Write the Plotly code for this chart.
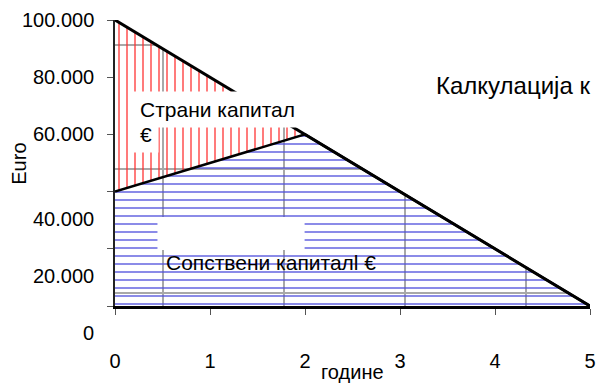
import plotly.graph_objects as go

# ---- data -------------------------------------------------------------
years = [0, 1, 2, 3, 4, 5]
own_capital = [40000, 50000, 60000, 40000, 20000, 0]
foreign_capital = [60000, 30000, 0, 0, 0, 0]
total_capital = [o + f for o, f in zip(own_capital, foreign_capital)]

x_ticks = [0, 1, 2, 3, 4, 5]
y_ticks = [0, 20000, 40000, 60000, 80000, 100000]
y_tick_text = ["0", "20.000", "40.000", "60.000", "80.000", "100.000"]

title_text = "Калкулација к"
foreign_label = "Страни капитал"
euro_sign = "€"
own_label = "Сопствени капиталl €"

# ---- style ------------------------------------------------------------
FONT = "Arial, Liberation Sans, sans-serif"
W, H = 604, 383
L, R, T, B = 115, 8, 20, 77
PW, PH = W - L - R, H - T - B
LOW_LABEL_DROP = 27          # lower y labels sit a bit below their ticks
GRID = "#a8a8a8"
CLEAR = "rgba(0,0,0,0)"


def px_x(p):
    return (p - L) / PW


def px_y(p):
    return (H - B - p) / PH


fig = go.Figure()

# stacked capital areas
fig.add_trace(go.Scatter(
    x=years, y=own_capital, stackgroup="cap", mode="lines",
    line=dict(width=0, color="#5a5ad8"), name=own_label, fillcolor=CLEAR,
    fillpattern=dict(shape="-", size=8, solidity=0.25, bgcolor=CLEAR,
                     fgcolor="#4c4cdc", fgopacity=0.65),
    hoverinfo="skip"))
fig.add_trace(go.Scatter(
    x=years, y=foreign_capital, stackgroup="cap", mode="lines",
    line=dict(width=0, color="#ff4040"), name=foreign_label, fillcolor=CLEAR,
    fillpattern=dict(shape="|", size=8, solidity=0.25, bgcolor=CLEAR,
                     fgcolor="#ff2a2a", fgopacity=0.62),
    hoverinfo="skip"))

# white region above the total (hides the texture grid there)
fig.add_trace(go.Scatter(
    x=years + [years[-1], years[0]],
    y=total_capital + [max(y_ticks), max(y_ticks)],
    fill="toself", fillcolor="white", mode="lines",
    line=dict(width=0), hoverinfo="skip", showlegend=False))

# outlines
fig.add_trace(go.Scatter(
    x=years, y=total_capital, mode="lines",
    line=dict(color="black", width=3), hoverinfo="skip", showlegend=False))
fig.add_trace(go.Scatter(
    x=years, y=own_capital, mode="lines",
    line=dict(color="black", width=2.5), hoverinfo="skip", showlegend=False))

annotations = []
for v, t in zip(y_ticks, y_tick_text):
    annotations.append(dict(
        xref="paper", yref="y", x=0, y=v, xanchor="right", yanchor="middle",
        xshift=-19, yshift=-LOW_LABEL_DROP if v < 60000 else 0,
        text=t, showarrow=False, font=dict(size=20, color="black", family=FONT)))

annotations += [
    dict(xref="paper", yref="paper", x=px_x(438), y=px_y(85), xanchor="left",
         yanchor="middle", text=title_text, showarrow=False,
         font=dict(size=24, color="black", family=FONT)),
    dict(xref="paper", yref="paper", x=px_x(17.5), y=px_y(164), textangle=-90,
         xanchor="center", yanchor="middle",
         text="Euro", showarrow=False, font=dict(size=20, color="black", family=FONT)),
    dict(xref="paper", yref="paper", x=px_x(356), y=px_y(372), text="године",
         xanchor="center", yanchor="middle",
         showarrow=False, font=dict(size=20, color="black", family=FONT)),
    # second line of the foreign-capital label first, so the first line sits on top
    dict(xref="paper", yref="paper", x=px_x(133), y=px_y(116), xanchor="left",
         yanchor="top", text=euro_sign, showarrow=False, bgcolor="white",
         borderpad=6, font=dict(size=21, color="black", family=FONT)),
    dict(xref="paper", yref="paper", x=px_x(133), y=px_y(91), xanchor="left",
         yanchor="top", text=foreign_label, showarrow=False, bgcolor="white",
         borderpad=6, font=dict(size=21, color="black", family=FONT)),
    dict(xref="paper", yref="paper", x=px_x(165), y=px_y(262), xanchor="left",
         yanchor="middle", text=own_label, showarrow=False,
         font=dict(size=21, color="black", family=FONT)),
]

fig.update_layout(
    width=W, height=H,
    margin=dict(l=L, r=R, t=T, b=B),
    paper_bgcolor="white", plot_bgcolor="white",
    showlegend=False,
    font=dict(family=FONT, size=20, color="black"),
    annotations=annotations,
    shapes=[dict(type="rect", xref="paper", yref="paper", layer="above",
                 x0=px_x(158), x1=px_x(307), y0=px_y(250), y1=px_y(217),
                 fillcolor="white", line=dict(width=0))],
)

fig.update_xaxes(
    range=[0, 5], tickmode="array", tickvals=x_ticks,
    ticktext=[str(v) for v in x_ticks],
    showgrid=False, zeroline=False,
    showline=True, linecolor="black", linewidth=3,
    ticks="outside", ticklen=6, tickwidth=1, tickcolor="#555",
    ticklabelstandoff=29,
    tickfont=dict(size=20, color="black", family=FONT),
    minor=dict(tickmode="linear", tick0=0.5, dtick=1.275, showgrid=True,
               gridcolor=GRID, gridwidth=2, ticks=""),
)
fig.update_yaxes(
    range=[0, 100000], tickmode="array", tickvals=y_ticks,
    showticklabels=False,
    showgrid=False, zeroline=False,
    showline=True, linecolor="#222", linewidth=2,
    ticks="outside", ticklen=6, tickwidth=1, tickcolor="#555",
    minor=dict(tickmode="linear", tick0=4550, dtick=43350, showgrid=True,
               gridcolor=GRID, gridwidth=2, ticks=""),
)

fig.write_html("out.html")
